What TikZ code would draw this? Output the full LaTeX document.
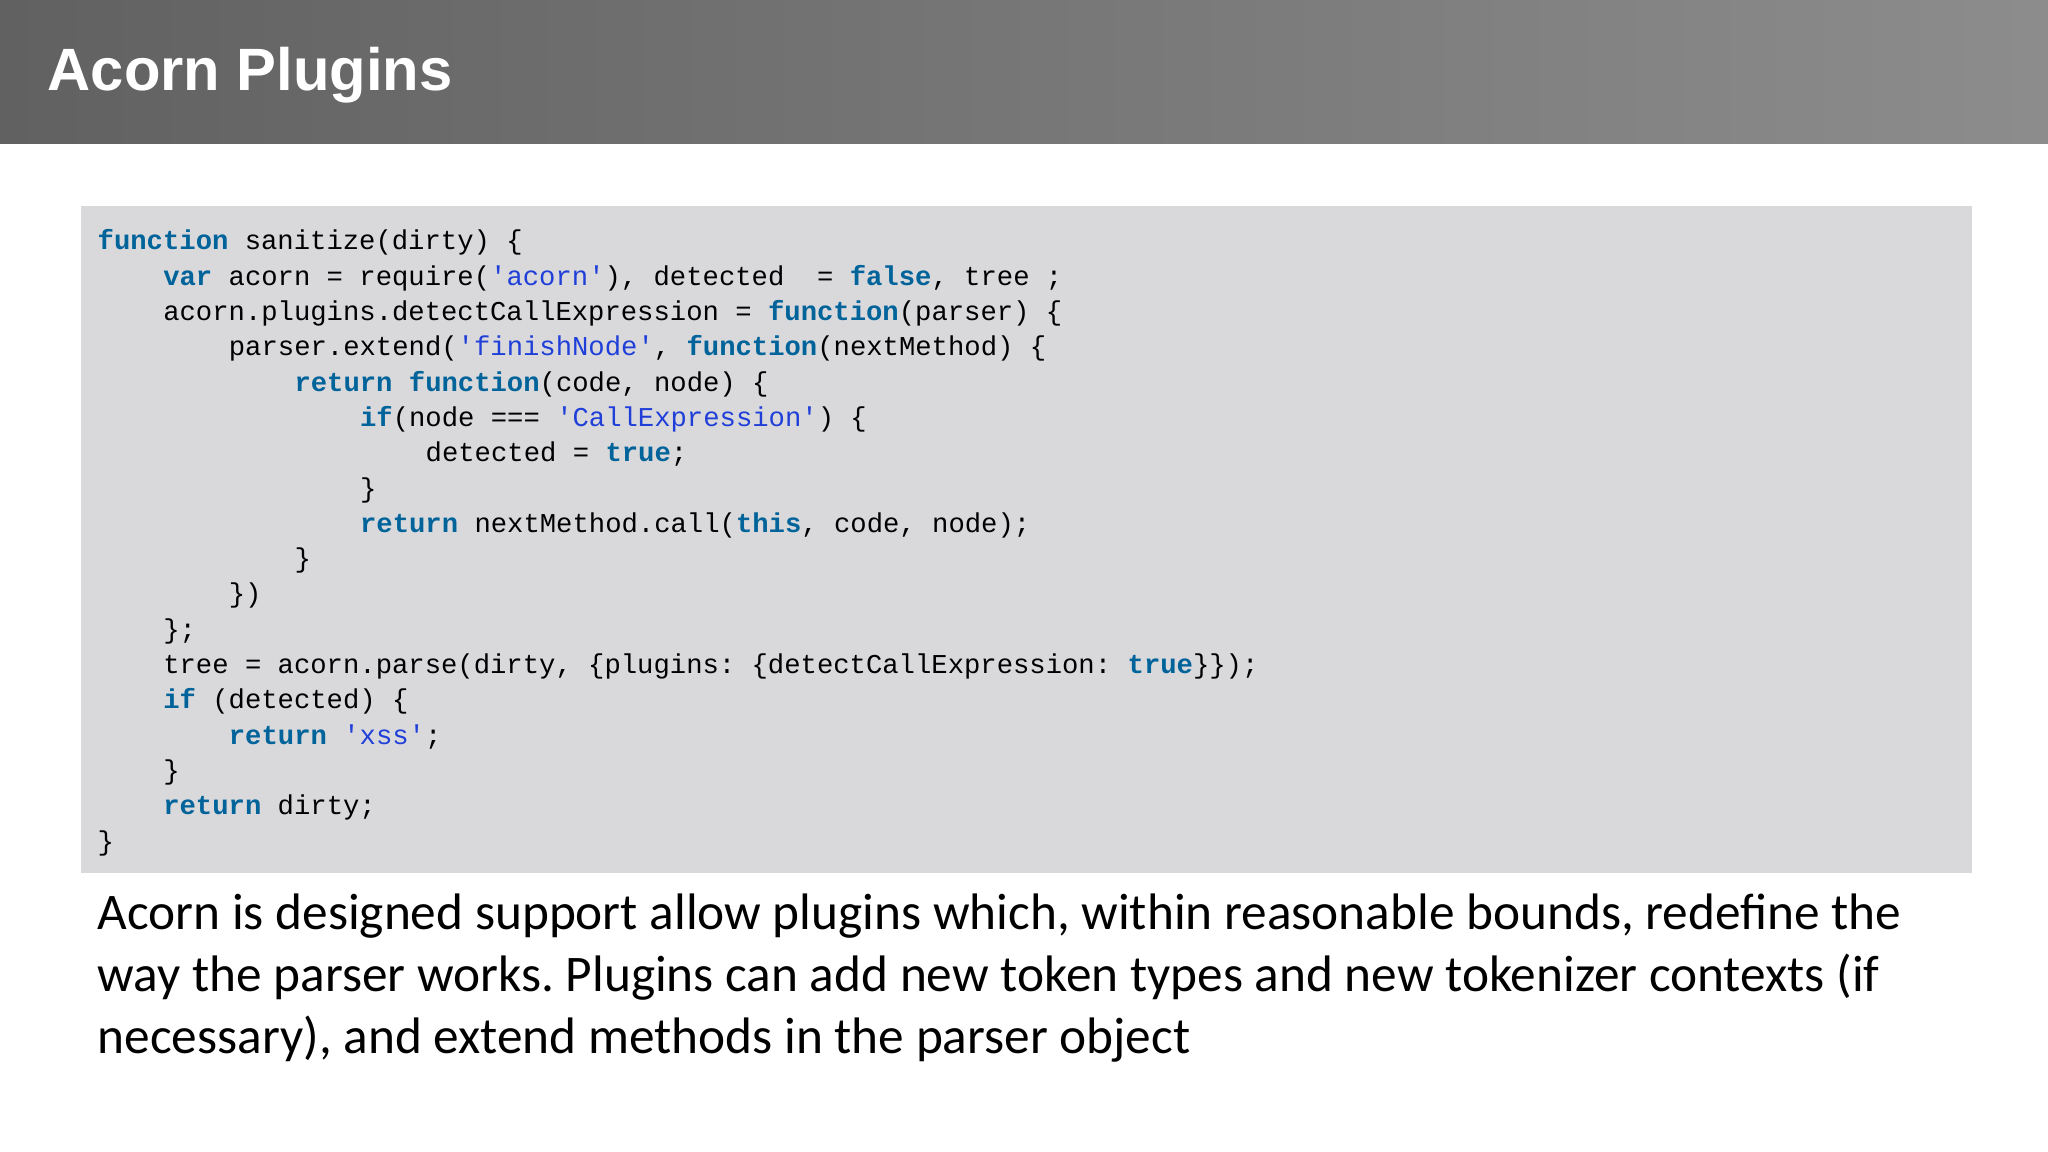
\documentclass[tikz,border=0pt]{standalone}
\usepackage{fontspec}
\setmainfont{Carlito}
\newfontfamily\codefont{Liberation Mono}
\newfontfamily\headfont{Liberation Sans}
\definecolor{codebg}{HTML}{D9D9DC}
\definecolor{kwblue}{HTML}{00639A}
\definecolor{strblue}{HTML}{1F3FD8}
\newcommand{\kw}[1]{\textcolor{kwblue}{\bfseries #1}}
\newcommand{\str}[1]{\textcolor{strblue}{#1}}
\frenchspacing

\begin{document}
\begin{tikzpicture}[x=1cm, y=1cm,
  codeline/.style={anchor=base west, inner sep=0pt, font=\codefont\fontsize{7.75}{9}\selectfont},
  bodyline/.style={anchor=base west, inner sep=0pt, font=\fontsize{14.6}{18}\selectfont}]

\useasboundingbox (0,0) rectangle (20.48,-11.52);
\fill[white] (0,0) rectangle (20.48,-11.52);

% header bar
\shade[left color=black!62, right color=black!45] (0,0) rectangle (20.48,-1.44);
\node[anchor=base west, inner sep=0pt, text=white, font=\headfont\bfseries\fontsize{17}{21}\selectfont] (title) at (0.47,-0.91) {Acorn Plugins};

% code box
\fill[codebg] (0.81,-2.06) rectangle (19.72,-8.73);

\def\ind{0.656}
\def\dy{0.353}
\def\top{-2.50}
\node[codeline] (c1) at (0.97,\top) {\kw{function} sanitize(dirty) \{};
\node[codeline] (c2) at (0.97+\ind,\top-\dy) {\kw{var} acorn = require(\str{'acorn'}), detected\ \ = \kw{false}, tree ;};
\node[codeline] (c3) at (0.97+\ind,\top-2*\dy) {acorn.plugins.detectCallExpression = \kw{function}(parser) \{};
\node[codeline] (c4) at (0.97+2*\ind,\top-3*\dy) {parser.extend(\str{'finishNode'}, \kw{function}(nextMethod) \{};
\node[codeline] (c5) at (0.97+3*\ind,\top-4*\dy) {\kw{return} \kw{function}(code, node) \{};
\node[codeline] (c6) at (0.97+4*\ind,\top-5*\dy) {\kw{if}(node === \str{'CallExpression'}) \{};
\node[codeline] (c7) at (0.97+5*\ind,\top-6*\dy) {detected = \kw{true};};
\node[codeline] (c8) at (0.97+4*\ind,\top-7*\dy) {\}};
\node[codeline] (c9) at (0.97+4*\ind,\top-8*\dy) {\kw{return} nextMethod.call(\kw{this}, code, node);};
\node[codeline] (c10) at (0.97+3*\ind,\top-9*\dy) {\}};
\node[codeline] (c11) at (0.97+2*\ind,\top-10*\dy) {\})};
\node[codeline] (c12) at (0.97+\ind,\top-11*\dy) {\};};
\node[codeline] (c13) at (0.97+\ind,\top-12*\dy) {tree = acorn.parse(dirty, \{plugins: \{detectCallExpression: \kw{true}\}\});};
\node[codeline] (c14) at (0.97+\ind,\top-13*\dy) {\kw{if} (detected) \{};
\node[codeline] (c15) at (0.97+2*\ind,\top-14*\dy) {\kw{return} \str{'xss'};};
\node[codeline] (c16) at (0.97+\ind,\top-15*\dy) {\}};
\node[codeline] (c17) at (0.97+\ind,\top-16*\dy) {\kw{return} dirty;};
\node[codeline] (c18) at (0.97,\top-17*\dy) {\}};

% description
\node[bodyline] (t1) at (0.97,-9.30) {Acorn is designed support allow plugins which, within reasonable bounds, redefine the};
\node[bodyline] (t2) at (0.97,-9.92) {way the parser works. Plugins can add new token types and new tokenizer contexts (if};
\node[bodyline] (t3) at (0.97,-10.53) {necessary), and extend methods in the parser object};

\end{tikzpicture}
\end{document}
